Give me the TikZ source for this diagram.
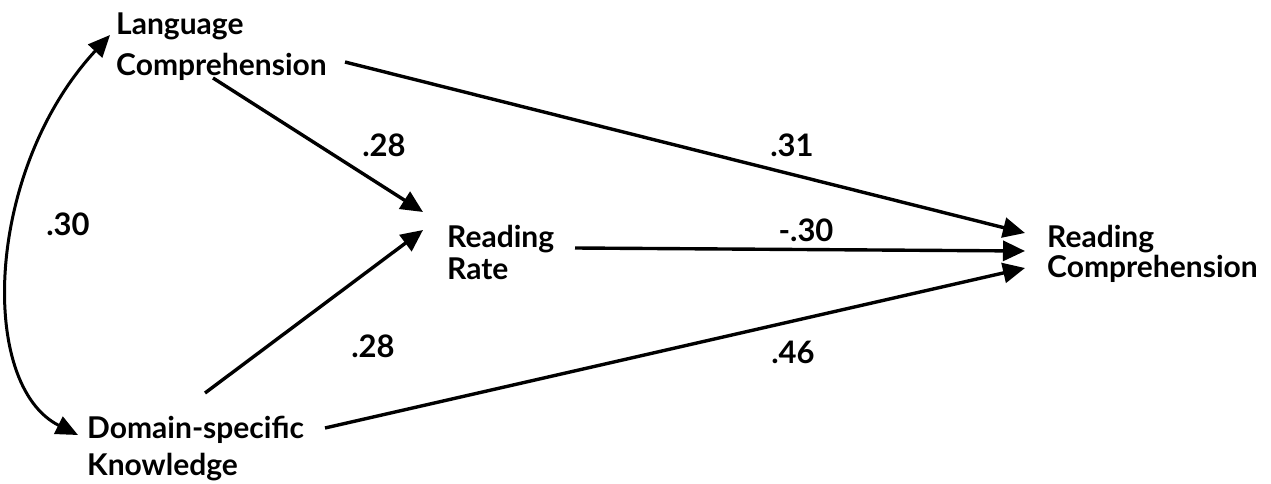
\documentclass[tikz,border=0pt]{standalone}
\usepackage{fontspec}
\setmainfont{Lato}
\usetikzlibrary{arrows.meta}
\begin{document}
\begin{tikzpicture}[x=1pt,y=-1pt,
  concept/.style={inner sep=0pt, anchor=base west, align=left, font=\fontsize{30}{33}\selectfont\bfseries},
  coef/.style={inner sep=0pt, anchor=base, font=\fontsize{31}{33}\selectfont\bfseries},
  path/.style={line width=3.4pt, -{Triangle[length=22pt,width=20pt]}},
  bipath/.style={line width=3pt, {Triangle[length=22pt,width=19pt]}-{Triangle[length=22pt,width=19pt]}}]
\useasboundingbox (0,0) rectangle (1271,484);
\node[concept] (lc) at (116,76) {Language\\[8pt]Comprehension};
\node[concept] (dk) at (87,475) {Domain-specific\\[4pt]Knowledge};
\node[concept] (rr) at (447,279) {Reading\\[-1pt]Rate};
\node[concept] (rc) at (1047,277) {Reading\\[-3pt]Comprehension};

\draw[path] ([shift={(97,2)}]lc.base west) -- ([shift={(-24,-67)}]rr.base west);
\draw[path] ([shift={(118,-82)}]dk.base west) -- ([shift={(-24,-49)}]rr.base west);
\draw[path] ([shift={(229,-14)}]lc.base west) -- ([shift={(-22,-44)}]rc.base west);
\draw[path] ([shift={(128,-31)}]rr.base west) -- ([shift={(-22,-26)}]rc.base west);
\draw[path] ([shift={(238,-47)}]dk.base west) -- ([shift={(-22,-9)}]rc.base west);
\draw[bipath] ([shift={(-9,-40)}]dk.base west) .. controls +(-100,-50) and +(-125,135) .. ([shift={(-6,-41)}]lc.base west);

\node[coef] (c1) at (384,157) {.28};
\node[coef] (c2) at (792,157) {.31};
\node[coef] (c3) at (68,235) {.30};
\node[coef] (c4) at (806,241) {-.30};
\node[coef] (c5) at (373,357) {.28};
\node[coef] (c6) at (793,363) {.46};
\end{tikzpicture}
\end{document}
